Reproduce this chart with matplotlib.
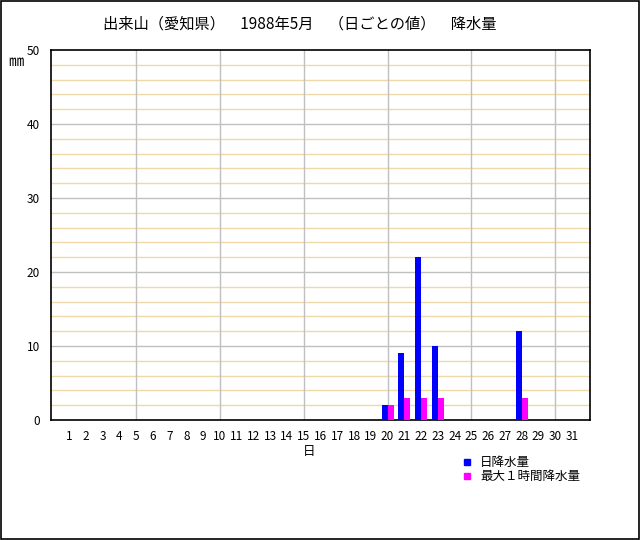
import numpy as np
import matplotlib
matplotlib.use("Agg")
import matplotlib.pyplot as plt
from matplotlib.patches import Rectangle

plt.rcParams['font.family'] = ['Noto Sans CJK JP', 'DejaVu Sans']

# data
days = list(range(1, 32))
daily_days = [20, 21, 22, 23, 28]
daily_rain = [2, 9, 22, 10, 12]
hourly_max = [2, 3, 3, 3, 3]
title = "出来山（愛知県）　1988年5月　（日ごとの値）　降水量"
legend_labels = ["日降水量", "最大１時間降水量"]

fig = plt.figure(figsize=(6.4, 5.4), dpi=100)
fig.patches.append(Rectangle((0.001, 0.001), 0.997, 0.997, transform=fig.transFigure,
                             fill=False, edgecolor='black', linewidth=1.2))

ax = fig.add_axes([51 / 640, 1 - 420 / 540, 539 / 640, 370 / 540])

# grid: minor every 2 mm, major every 10 mm
for y in range(2, 50, 2):
    if y % 10 == 0:
        ax.axhline(y, color='#c0c0c0', linewidth=1.0, zorder=1)
    else:
        ax.axhline(y, color='#f0d9a8', linewidth=1.0, zorder=1)
for d in range(5, 31, 5):
    ax.axvline(d, color='#c0c0c0', linewidth=1.0, zorder=1)

w = 0.36
ax.bar(np.array(daily_days) - w / 2, daily_rain, width=w, color='#0000ff', zorder=3)
ax.bar(np.array(daily_days) + w / 2, hourly_max, width=w, color='#ff00ff', zorder=3)

ax.set_xlim(-0.08, 32.08)
ax.set_ylim(0, 50)
ax.set_xticks(days)
ax.set_xticklabels([str(d) for d in days], fontsize=8.5)
ax.set_yticks(range(0, 51, 10))
ax.set_yticklabels([str(v) for v in range(0, 51, 10)], fontsize=8.5)
ax.tick_params(axis='x', length=0, pad=7)
ax.tick_params(axis='y', length=0, pad=8)
for s in ax.spines.values():
    s.set_color('black')
    s.set_linewidth(1.2)

fig.text(300 / 640, 1 - 24 / 540, title, ha='center', va='center', fontsize=11)
fig.text(16 / 640, 1 - 62 / 540, "㎜", ha='center', va='center', fontsize=11)
fig.text(309 / 640, 1 - 452 / 540, "日", ha='center', va='center', fontsize=9)

# legend
for i, (lab, col) in enumerate(zip(legend_labels, ['#0000ff', '#ff00ff'])):
    yy = 1 - (462 + 14 * i) / 540
    fig.patches.append(Rectangle((464 / 640, yy - 3 / 540), 6 / 640, 6 / 540,
                                 transform=fig.transFigure, color=col))
    fig.text(480 / 640, yy, lab, ha='left', va='center', fontsize=9)

fig.savefig("out.png", dpi=100)
